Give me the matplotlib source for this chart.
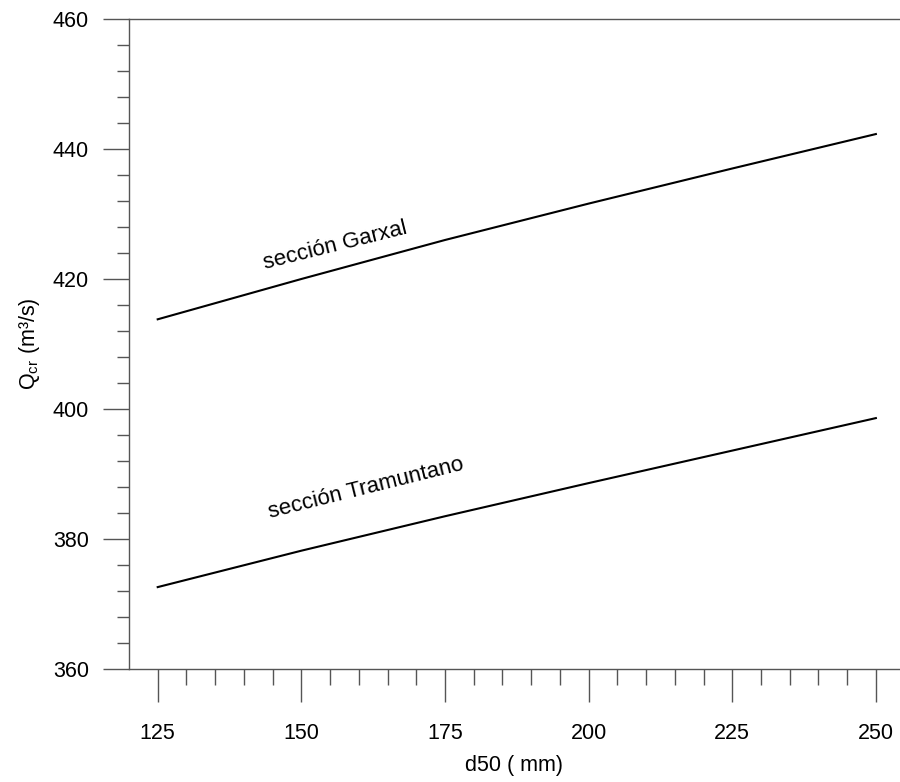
import numpy as np
import matplotlib
matplotlib.use("Agg")
import matplotlib.pyplot as plt
from matplotlib.ticker import MultipleLocator

plt.rcParams['font.family'] = ['Liberation Sans', 'DejaVu Sans']
plt.rcParams['mathtext.fontset'] = 'custom'
plt.rcParams['mathtext.rm'] = 'Liberation Sans'

# values
d50 = [125, 150, 175, 200, 225, 250]
q_garxal = [413.8, 420.0, 426.0, 431.6, 437.0, 442.3]
q_tramuntano = [372.6, 378.2, 383.5, 388.6, 393.6, 398.6]

fig = plt.figure(figsize=(9, 7.82), dpi=100)
ax = fig.add_axes([0.1433, 0.1445, 1 - 0.1433, 0.9757 - 0.1445])

ax.plot(d50, q_garxal, color='black', lw=1.5)
ax.plot(d50, q_tramuntano, color='black', lw=1.5)

ax.text(143.6, 421.6, 'sección Garxal', rotation=14, rotation_mode='anchor',
        ha='left', va='baseline', fontsize=16)
ax.text(144.6, 383.2, 'sección Tramuntano', rotation=14, rotation_mode='anchor',
        ha='left', va='baseline', fontsize=16)

ax.set_xlim(120, 254.2)
ax.set_ylim(360, 460)
ax.set_xticks([125, 150, 175, 200, 225, 250])
ax.set_xticks(np.arange(130, 250, 5), minor=True)
ax.yaxis.set_major_locator(MultipleLocator(20))
ax.yaxis.set_minor_locator(MultipleLocator(4))

gray = '#555555'
for s in ['left', 'bottom', 'top']:
    ax.spines[s].set_color(gray)
    ax.spines[s].set_linewidth(1.0)
ax.spines['right'].set_visible(False)

ax.tick_params(axis='x', which='major', direction='out', length=23.8, width=1,
               color=gray, labelsize=15.5, pad=15)
ax.tick_params(axis='x', which='minor', direction='out', length=11.5, width=1,
               color=gray)
ax.tick_params(axis='y', which='major', direction='out', length=18.7, width=1,
               color=gray, labelsize=15.5, pad=10)
ax.tick_params(axis='y', which='minor', direction='out', length=9, width=1,
               color=gray)

ax.set_xlabel('d50 ( mm)', fontsize=15.5, labelpad=8)
ax.set_ylabel(r'Q$_\mathregular{cr}$ (m³/s)', fontsize=15.5, labelpad=8)

fig.savefig('out.png', dpi=100)
